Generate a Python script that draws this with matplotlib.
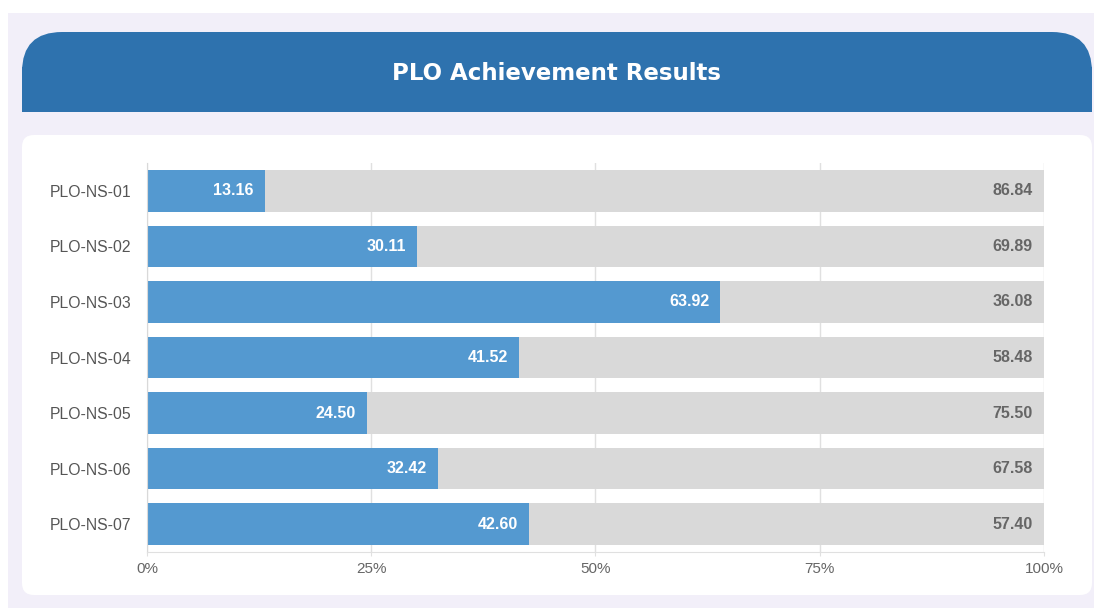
import matplotlib
matplotlib.use("Agg")
import matplotlib.pyplot as plt
from matplotlib.patches import FancyBboxPatch, Rectangle

categories = ["PLO-NS-01", "PLO-NS-02", "PLO-NS-03", "PLO-NS-04", "PLO-NS-05", "PLO-NS-06", "PLO-NS-07"]
achieved = [13.16, 30.11, 63.92, 41.52, 24.50, 32.42, 42.60]
remaining = [86.84, 69.89, 36.08, 58.48, 75.50, 67.58, 57.40]
xticks = [0, 25, 50, 75, 100]
xticklabels = ["0%", "25%", "50%", "75%", "100%"]
title = "PLO Achievement Results"

W, H = 1094, 608
fig = plt.figure(figsize=(W / 100, H / 100), dpi=100)
fig.patch.set_facecolor("white")

def fx(px):
    return px / W

def fy(py):
    return 1 - py / H

# lavender panel
fig.patches.append(Rectangle((fx(8), fy(608)), fx(1094) - fx(8), fy(13) - fy(608),
                             transform=fig.transFigure, facecolor="#f2eff9", edgecolor="none", zorder=0))
# header (rounded top corners)
r = 40
fig.patches.append(FancyBboxPatch((22, H - 112), 1070, 80, boxstyle=f"round,pad=0,rounding_size={r}",
                                  transform=None, facecolor="#2e72ae", edgecolor="none", zorder=1))
fig.patches.append(Rectangle((22, H - 112), 1070, 45, transform=None,
                             facecolor="#2e72ae", edgecolor="none", zorder=1))
fig.text(fx(556), fy(73.5), title, ha="center", va="center", color="white",
         fontsize=16.5, fontweight="bold", family="DejaVu Sans", zorder=3)
# white card
fig.patches.append(FancyBboxPatch((22, H - 595), 1070, 460, boxstyle="round,pad=0,rounding_size=12",
                                  transform=None, facecolor="white", edgecolor="none", zorder=1))

# plot axes
left, right, top, bottom = 147, 1044, 163, 552
ax = fig.add_axes([fx(left), fy(bottom), fx(right) - fx(left), fy(top) - fy(bottom)])
ax.set_facecolor("none")
ax.set_zorder(2)

y = list(range(len(categories)))
ax.barh(y, achieved, height=0.75, color="#5499d0", zorder=2)
ax.barh(y, remaining, left=achieved, height=0.75, color="#d9d9d9", zorder=2)

for i, (a, b) in enumerate(zip(achieved, remaining)):
    ax.annotate(f"{a:.2f}", (a, i), xytext=(-8, 0), textcoords="offset points",
                ha="right", va="center", color="white", fontweight="bold",
                fontsize=11.5, family="Liberation Sans", zorder=3)
    ax.annotate(f"{b:.2f}", (a + b, i), xytext=(-8, 0), textcoords="offset points",
                ha="right", va="center", color="#666666", fontweight="bold",
                fontsize=11.5, family="Liberation Sans", zorder=3)

ax.set_xlim(0, 100)
ax.set_ylim(len(categories) - 0.5, -0.5)
ax.set_yticks(y)
ax.set_yticklabels(categories, family="Liberation Sans", fontsize=11.3, color="#555555")
ax.set_xticks(xticks)
ax.set_xticklabels(xticklabels, family="Liberation Sans", fontsize=11, color="#666666")
ax.tick_params(axis="y", length=0, pad=11)
ax.tick_params(axis="x", length=3, color="#e0e0e0", pad=4)
ax.grid(axis="x", color="#e0e0e0", linewidth=1, zorder=1)
ax.set_axisbelow(True)
for s in ["top", "right"]:
    ax.spines[s].set_visible(False)
ax.spines["left"].set_color("#d9d9d9")
ax.spines["bottom"].set_color("#e0e0e0")

fig.savefig("out.png", dpi=100, facecolor=fig.get_facecolor())
